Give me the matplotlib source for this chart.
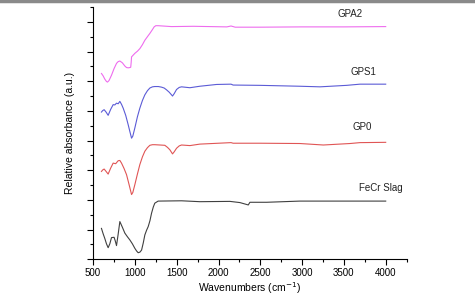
import matplotlib.pyplot as plt
from matplotlib.ticker import MultipleLocator, NullFormatter
from matplotlib.lines import Line2D

plt.rcParams['font.family'] = ['Liberation Sans', 'DejaVu Sans']

# FTIR spectra, values (stacked with offsets)
wn_gpa2 = [600, 620, 640, 660, 672, 690, 720, 750, 780, 800, 820, 850, 880, 900, 920, 940,
           950, 955, 960, 980, 1000, 1030, 1060, 1090, 1119, 1150, 1179, 1210, 1230, 1250,
           1278, 1438, 1700, 1900, 2100, 2150, 2200, 2500, 3000, 3500, 4000]
abs_gpa2 = [6.26, 6.18, 6.07, 5.99, 5.97, 6.02, 6.20, 6.42, 6.60, 6.66, 6.68, 6.62, 6.51,
            6.46, 6.45, 6.46, 6.47, 6.62, 6.82, 6.88, 6.94, 7.01, 7.10, 7.23, 7.38, 7.50,
            7.61, 7.74, 7.83, 7.87, 7.87, 7.84, 7.85, 7.84, 7.83, 7.86, 7.82, 7.82, 7.83,
            7.83, 7.84]

wn_gps1 = [600, 615, 632, 655, 680, 710, 740, 760, 780, 800, 820, 840, 860, 890, 920, 940,
           960, 975, 999, 1030, 1059, 1090, 1119, 1150, 1179, 1210, 1238, 1280, 1318, 1350,
           1378, 1410, 1438, 1450, 1470, 1498, 1530, 1558, 1658, 1777, 1977, 2150, 2175,
           2500, 2974, 3214, 3533, 3692, 4000]
abs_gps1 = [4.96, 5.01, 5.04, 4.96, 4.85, 5.05, 5.21, 5.20, 5.26, 5.24, 5.32, 5.22, 5.09,
            4.85, 4.53, 4.30, 4.08, 4.15, 4.42, 4.80, 5.09, 5.35, 5.54, 5.68, 5.77, 5.81,
            5.82, 5.82, 5.80, 5.77, 5.71, 5.63, 5.54, 5.50, 5.58, 5.72, 5.79, 5.81, 5.78,
            5.83, 5.89, 5.90, 5.87, 5.86, 5.83, 5.81, 5.86, 5.90, 5.90]

wn_gp0 = [600, 615, 632, 655, 680, 710, 740, 770, 800, 820, 840, 870, 900, 930, 960, 975,
          999, 1030, 1059, 1090, 1119, 1150, 1179, 1210, 1238, 1300, 1358, 1390, 1418, 1450,
          1470, 1498, 1530, 1558, 1658, 1777, 2150, 2175, 2500, 2974, 3254, 3573, 3692, 4000]
abs_gp0 = [2.96, 3.01, 3.04, 2.96, 2.87, 3.07, 3.24, 3.22, 3.32, 3.33, 3.24, 3.06, 2.85,
           2.52, 2.18, 2.25, 2.51, 2.87, 3.19, 3.45, 3.64, 3.76, 3.84, 3.86, 3.86, 3.85,
           3.84, 3.77, 3.69, 3.55, 3.62, 3.74, 3.82, 3.85, 3.83, 3.88, 3.93, 3.91, 3.91,
           3.90, 3.85, 3.90, 3.93, 3.94]

wn_slag = [600, 620, 640, 660, 680, 700, 720, 751, 765, 780, 800, 820, 850, 880, 910, 940,
           970, 999, 1020, 1039, 1060, 1080, 1100, 1119, 1140, 1159, 1180, 1199, 1220, 1238,
           1278, 1558, 1777, 2137, 2256, 2356, 2376, 2575, 2974, 4000]
abs_slag = [1.04, 0.86, 0.70, 0.52, 0.39, 0.52, 0.73, 0.74, 0.62, 0.46, 0.85, 1.27, 1.08,
            0.88, 0.76, 0.65, 0.52, 0.37, 0.28, 0.22, 0.24, 0.31, 0.55, 0.82, 0.98, 1.10,
            1.30, 1.55, 1.76, 1.89, 1.96, 1.97, 1.94, 1.95, 1.91, 1.83, 1.92, 1.92, 1.96,
            1.96]

names = ["GPA2", "GPS1", "GP0", "FeCr Slag"]
colors = ["#ee6cee", "#5b5bd6", "#e05555", "#404040"]
label_x = [3573, 3728, 3716, 3944]
label_y = [8.28, 6.31, 4.46, 2.40]

fig = plt.figure(figsize=(4.75, 2.98), dpi=100)
ax = fig.add_axes([0.196, 0.130, 0.660, 0.8465])

series = [(wn_gpa2, abs_gpa2), (wn_gps1, abs_gps1), (wn_gp0, abs_gp0), (wn_slag, abs_slag)]
for (x, y), c in zip(series, colors):
    ax.plot(x, y, color=c, lw=0.8)

for name, tx, ty in zip(names, label_x, label_y):
    ax.text(tx, ty, name, fontsize=7, ha="center", va="center", color="#222222")

ax.set_xlim(500, 4250)
ax.set_ylim(0, 8.5)
ax.xaxis.set_major_locator(MultipleLocator(500))
ax.xaxis.set_minor_locator(MultipleLocator(250))
ax.yaxis.set_major_locator(MultipleLocator(1))
ax.yaxis.set_minor_locator(MultipleLocator(0.5))
ax.yaxis.set_major_formatter(NullFormatter())
ax.tick_params(which="major", direction="out", length=4, width=0.8, labelsize=7, pad=2)
ax.tick_params(which="minor", direction="out", length=2.5, width=0.8)
for s in ["top", "right"]:
    ax.spines[s].set_visible(False)

ax.set_xlabel("Wavenumbers (cm$^{-1}$)", fontsize=7.5, labelpad=2)
ax.set_ylabel("Relative absorbance (a.u.)", fontsize=7.5, labelpad=7)

# thin grey rule along the top edge of the image
fig.add_artist(Line2D([0, 1], [0.996, 0.996], transform=fig.transFigure,
                      color="#8a8a8a", lw=2.5))

fig.savefig("out.png", dpi=100)
